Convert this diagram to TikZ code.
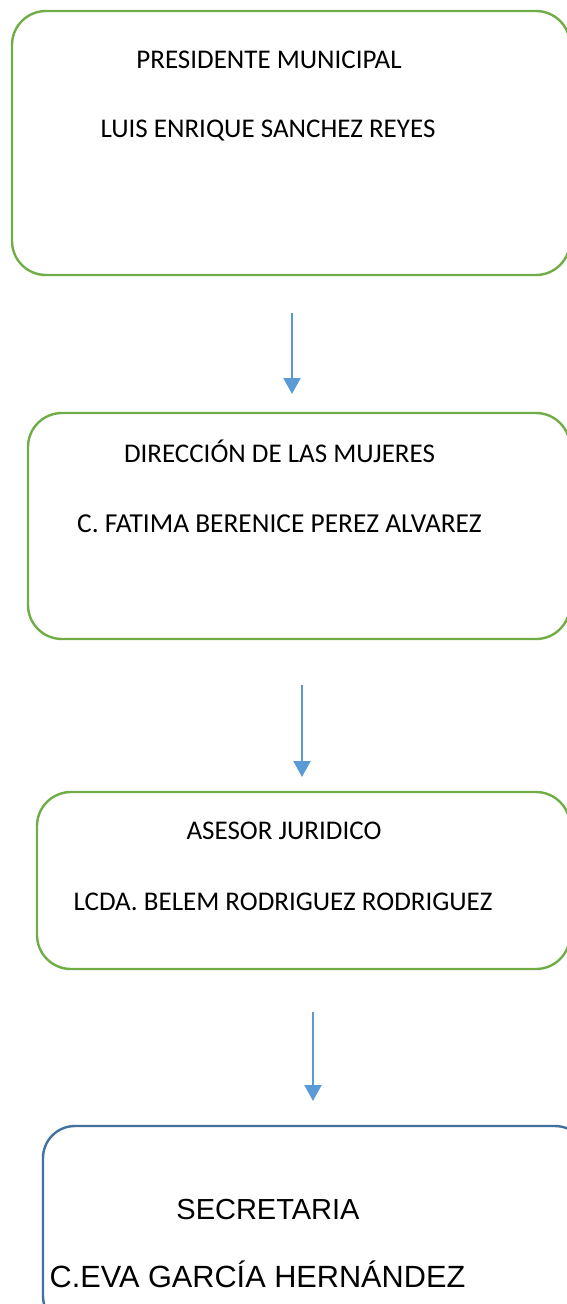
\documentclass[tikz,border=0pt]{standalone}
\usepackage{fontspec}
\setmainfont{Carlito}
\newfontfamily\arialfont{Liberation Sans}
\usetikzlibrary{arrows.meta}
\definecolor{boxgreen}{HTML}{70AD47}
\definecolor{boxblue}{HTML}{41719C}
\definecolor{arrowblue}{HTML}{5B9BD5}
\tikzset{
  greenbox/.style={draw=boxgreen, line width=2.4pt, rounded corners=34pt, inner sep=0pt, outer sep=0pt},
  bluebox/.style={draw=boxblue, line width=2.4pt, rounded corners=32pt, inner sep=0pt, outer sep=0pt},
  lbl/.style={anchor=base, inner sep=0pt, font=\fontsize{27}{32}\selectfont},
  lblarial/.style={anchor=base, inner sep=0pt, font=\arialfont\fontsize{29}{34}\selectfont},
  link/.style={draw=arrowblue, line width=2.2pt, -{Triangle[width=17pt,length=16pt]}}
}
\begin{document}
\begin{tikzpicture}[x=1pt,y=-1pt]
\useasboundingbox (0,0) rectangle (567,1304);
\clip (0,0) rectangle (567,1304);
% boxes
\node[greenbox, minimum width=558pt, minimum height=264pt] (b1) at (291,143) {};
\node[greenbox, minimum width=542pt, minimum height=226pt] (b2) at (299,526) {};
\node[greenbox, minimum width=533pt, minimum height=177pt] (b3) at (303.5,880.5) {};
\node[bluebox, minimum width=544pt, minimum height=202pt] (b4) at (315,1227) {};
% texts
\node[lbl] (t1a) at (269,68) {PRESIDENTE MUNICIPAL};
\node[lbl] (t1b) at (268,137) {LUIS ENRIQUE SANCHEZ REYES};
\node[lbl] (t2a) at (279.5,462) {DIRECCIÓN DE LAS MUJERES};
\node[lbl, font=\fontsize{27.4}{32}\selectfont] (t2b) at (279.5,532) {C. FATIMA BERENICE PEREZ ALVAREZ};
\node[lbl] (t3a) at (284,839) {ASESOR JURIDICO};
\node[lbl] (t3b) at (283,910) {LCDA. BELEM RODRIGUEZ RODRIGUEZ};
\node[lblarial] (t4a) at (268,1219) {SECRETARIA};
\node[lblarial, font=\arialfont\fontsize{30.7}{36}\selectfont] (t4b) at (257.5,1287) {C.EVA GARCÍA HERNÁNDEZ};
% arrows
\coordinate (a1s) at (292,313);
\coordinate (a1e) at (292,394);
\coordinate (a2s) at (302,685);
\coordinate (a2e) at (302,777);
\coordinate (a3s) at (313,1012);
\coordinate (a3e) at (313,1101);
\draw[link] (a1s) -- (a1e);
\draw[link] (a2s) -- (a2e);
\draw[link] (a3s) -- (a3e);
\end{tikzpicture}
\end{document}
